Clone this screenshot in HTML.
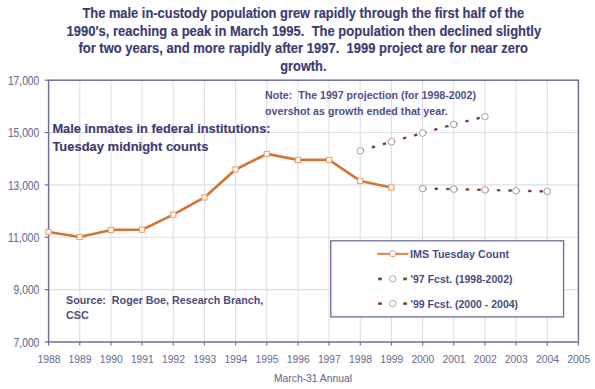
<!DOCTYPE html>
<html><head><meta charset="utf-8"><style>
html,body{margin:0;padding:0;background:#fff;width:595px;height:389px;overflow:hidden;position:relative}
</style></head><body>
<svg width="595" height="389" viewBox="0 0 595 389" style="position:absolute;left:0;top:0"><line x1="79.76" y1="80.2" x2="79.76" y2="342.0" stroke="#dedeea" stroke-width="1.1"/><line x1="110.93" y1="80.2" x2="110.93" y2="342.0" stroke="#dedeea" stroke-width="1.1"/><line x1="142.09" y1="80.2" x2="142.09" y2="342.0" stroke="#dedeea" stroke-width="1.1"/><line x1="173.26" y1="80.2" x2="173.26" y2="342.0" stroke="#dedeea" stroke-width="1.1"/><line x1="204.42" y1="80.2" x2="204.42" y2="342.0" stroke="#dedeea" stroke-width="1.1"/><line x1="235.59" y1="80.2" x2="235.59" y2="342.0" stroke="#dedeea" stroke-width="1.1"/><line x1="266.75" y1="80.2" x2="266.75" y2="342.0" stroke="#dedeea" stroke-width="1.1"/><line x1="297.92" y1="80.2" x2="297.92" y2="342.0" stroke="#dedeea" stroke-width="1.1"/><line x1="329.08" y1="80.2" x2="329.08" y2="342.0" stroke="#dedeea" stroke-width="1.1"/><line x1="360.25" y1="80.2" x2="360.25" y2="342.0" stroke="#dedeea" stroke-width="1.1"/><line x1="391.41" y1="80.2" x2="391.41" y2="342.0" stroke="#dedeea" stroke-width="1.1"/><line x1="422.58" y1="80.2" x2="422.58" y2="342.0" stroke="#dedeea" stroke-width="1.1"/><line x1="453.74" y1="80.2" x2="453.74" y2="342.0" stroke="#dedeea" stroke-width="1.1"/><line x1="484.91" y1="80.2" x2="484.91" y2="342.0" stroke="#dedeea" stroke-width="1.1"/><line x1="516.07" y1="80.2" x2="516.07" y2="342.0" stroke="#dedeea" stroke-width="1.1"/><line x1="547.24" y1="80.2" x2="547.24" y2="342.0" stroke="#dedeea" stroke-width="1.1"/><line x1="48.6" y1="289.64" x2="578.40" y2="289.64" stroke="#dedeea" stroke-width="1.1"/><line x1="48.6" y1="237.28" x2="578.40" y2="237.28" stroke="#dedeea" stroke-width="1.1"/><line x1="48.6" y1="184.92" x2="578.40" y2="184.92" stroke="#dedeea" stroke-width="1.1"/><line x1="48.6" y1="132.56" x2="578.40" y2="132.56" stroke="#dedeea" stroke-width="1.1"/><rect x="48.6" y="80.2" width="529.80" height="261.80" fill="none" stroke="#6e6e9c" stroke-width="1.5"/><line x1="48.60" y1="342.0" x2="48.60" y2="345.5" stroke="#6e6e9c" stroke-width="1.2"/><line x1="79.76" y1="342.0" x2="79.76" y2="345.5" stroke="#6e6e9c" stroke-width="1.2"/><line x1="110.93" y1="342.0" x2="110.93" y2="345.5" stroke="#6e6e9c" stroke-width="1.2"/><line x1="142.09" y1="342.0" x2="142.09" y2="345.5" stroke="#6e6e9c" stroke-width="1.2"/><line x1="173.26" y1="342.0" x2="173.26" y2="345.5" stroke="#6e6e9c" stroke-width="1.2"/><line x1="204.42" y1="342.0" x2="204.42" y2="345.5" stroke="#6e6e9c" stroke-width="1.2"/><line x1="235.59" y1="342.0" x2="235.59" y2="345.5" stroke="#6e6e9c" stroke-width="1.2"/><line x1="266.75" y1="342.0" x2="266.75" y2="345.5" stroke="#6e6e9c" stroke-width="1.2"/><line x1="297.92" y1="342.0" x2="297.92" y2="345.5" stroke="#6e6e9c" stroke-width="1.2"/><line x1="329.08" y1="342.0" x2="329.08" y2="345.5" stroke="#6e6e9c" stroke-width="1.2"/><line x1="360.25" y1="342.0" x2="360.25" y2="345.5" stroke="#6e6e9c" stroke-width="1.2"/><line x1="391.41" y1="342.0" x2="391.41" y2="345.5" stroke="#6e6e9c" stroke-width="1.2"/><line x1="422.58" y1="342.0" x2="422.58" y2="345.5" stroke="#6e6e9c" stroke-width="1.2"/><line x1="453.74" y1="342.0" x2="453.74" y2="345.5" stroke="#6e6e9c" stroke-width="1.2"/><line x1="484.91" y1="342.0" x2="484.91" y2="345.5" stroke="#6e6e9c" stroke-width="1.2"/><line x1="516.07" y1="342.0" x2="516.07" y2="345.5" stroke="#6e6e9c" stroke-width="1.2"/><line x1="547.24" y1="342.0" x2="547.24" y2="345.5" stroke="#6e6e9c" stroke-width="1.2"/><line x1="578.40" y1="342.0" x2="578.40" y2="345.5" stroke="#6e6e9c" stroke-width="1.2"/><line x1="44.6" y1="342.00" x2="48.6" y2="342.00" stroke="#6e6e9c" stroke-width="1.2"/><line x1="44.6" y1="289.64" x2="48.6" y2="289.64" stroke="#6e6e9c" stroke-width="1.2"/><line x1="44.6" y1="237.28" x2="48.6" y2="237.28" stroke="#6e6e9c" stroke-width="1.2"/><line x1="44.6" y1="184.92" x2="48.6" y2="184.92" stroke="#6e6e9c" stroke-width="1.2"/><line x1="44.6" y1="132.56" x2="48.6" y2="132.56" stroke="#6e6e9c" stroke-width="1.2"/><line x1="44.6" y1="80.20" x2="48.6" y2="80.20" stroke="#6e6e9c" stroke-width="1.2"/><text x="82.40" y="18.10" font-family="Liberation Sans" font-size="14" font-weight="bold" fill="#3c3c70" stroke="#3c3c70" stroke-width="0.15" textLength="441.80" lengthAdjust="spacingAndGlyphs" text-anchor="start" xml:space="preserve">The male in-custody population grew rapidly through the first half of the</text><text x="66.60" y="35.60" font-family="Liberation Sans" font-size="14" font-weight="bold" fill="#3c3c70" stroke="#3c3c70" stroke-width="0.15" textLength="474.60" lengthAdjust="spacingAndGlyphs" text-anchor="start" xml:space="preserve">1990's, reaching a peak in March 1995.  The population then declined slightly</text><text x="78.40" y="53.10" font-family="Liberation Sans" font-size="14" font-weight="bold" fill="#3c3c70" stroke="#3c3c70" stroke-width="0.15" textLength="449.60" lengthAdjust="spacingAndGlyphs" text-anchor="start" xml:space="preserve">for two years, and more rapidly after 1997.  1999 project are for near zero</text><text x="280.30" y="70.60" font-family="Liberation Sans" font-size="14" font-weight="bold" fill="#3c3c70" stroke="#3c3c70" stroke-width="0.15" textLength="46.20" lengthAdjust="spacingAndGlyphs" text-anchor="start" xml:space="preserve">growth.</text><text x="39.30" y="346.60" font-family="Liberation Sans" font-size="12.6" font-weight="normal" fill="#6c6c94" stroke="#6c6c94" stroke-width="0.1" textLength="25.69" lengthAdjust="spacingAndGlyphs" text-anchor="end" xml:space="preserve">7,000</text><text x="39.30" y="294.24" font-family="Liberation Sans" font-size="12.6" font-weight="normal" fill="#6c6c94" stroke="#6c6c94" stroke-width="0.1" textLength="25.69" lengthAdjust="spacingAndGlyphs" text-anchor="end" xml:space="preserve">9,000</text><text x="39.30" y="241.88" font-family="Liberation Sans" font-size="12.6" font-weight="normal" fill="#6c6c94" stroke="#6c6c94" stroke-width="0.1" textLength="31.40" lengthAdjust="spacingAndGlyphs" text-anchor="end" xml:space="preserve">11,000</text><text x="39.30" y="189.52" font-family="Liberation Sans" font-size="12.6" font-weight="normal" fill="#6c6c94" stroke="#6c6c94" stroke-width="0.1" textLength="31.40" lengthAdjust="spacingAndGlyphs" text-anchor="end" xml:space="preserve">13,000</text><text x="39.30" y="137.16" font-family="Liberation Sans" font-size="12.6" font-weight="normal" fill="#6c6c94" stroke="#6c6c94" stroke-width="0.1" textLength="31.40" lengthAdjust="spacingAndGlyphs" text-anchor="end" xml:space="preserve">15,000</text><text x="39.30" y="84.80" font-family="Liberation Sans" font-size="12.6" font-weight="normal" fill="#6c6c94" stroke="#6c6c94" stroke-width="0.1" textLength="31.40" lengthAdjust="spacingAndGlyphs" text-anchor="end" xml:space="preserve">17,000</text><text x="48.90" y="362.70" font-family="Liberation Sans" font-size="11" font-weight="normal" fill="#6c6c94" stroke="#6c6c94" stroke-width="0.05" textLength="23.00" lengthAdjust="spacingAndGlyphs" text-anchor="middle" xml:space="preserve">1988</text><text x="80.06" y="362.70" font-family="Liberation Sans" font-size="11" font-weight="normal" fill="#6c6c94" stroke="#6c6c94" stroke-width="0.05" textLength="23.00" lengthAdjust="spacingAndGlyphs" text-anchor="middle" xml:space="preserve">1989</text><text x="111.23" y="362.70" font-family="Liberation Sans" font-size="11" font-weight="normal" fill="#6c6c94" stroke="#6c6c94" stroke-width="0.05" textLength="23.00" lengthAdjust="spacingAndGlyphs" text-anchor="middle" xml:space="preserve">1990</text><text x="142.39" y="362.70" font-family="Liberation Sans" font-size="11" font-weight="normal" fill="#6c6c94" stroke="#6c6c94" stroke-width="0.05" textLength="23.00" lengthAdjust="spacingAndGlyphs" text-anchor="middle" xml:space="preserve">1991</text><text x="173.56" y="362.70" font-family="Liberation Sans" font-size="11" font-weight="normal" fill="#6c6c94" stroke="#6c6c94" stroke-width="0.05" textLength="23.00" lengthAdjust="spacingAndGlyphs" text-anchor="middle" xml:space="preserve">1992</text><text x="204.72" y="362.70" font-family="Liberation Sans" font-size="11" font-weight="normal" fill="#6c6c94" stroke="#6c6c94" stroke-width="0.05" textLength="23.00" lengthAdjust="spacingAndGlyphs" text-anchor="middle" xml:space="preserve">1993</text><text x="235.89" y="362.70" font-family="Liberation Sans" font-size="11" font-weight="normal" fill="#6c6c94" stroke="#6c6c94" stroke-width="0.05" textLength="23.00" lengthAdjust="spacingAndGlyphs" text-anchor="middle" xml:space="preserve">1994</text><text x="267.05" y="362.70" font-family="Liberation Sans" font-size="11" font-weight="normal" fill="#6c6c94" stroke="#6c6c94" stroke-width="0.05" textLength="23.00" lengthAdjust="spacingAndGlyphs" text-anchor="middle" xml:space="preserve">1995</text><text x="298.22" y="362.70" font-family="Liberation Sans" font-size="11" font-weight="normal" fill="#6c6c94" stroke="#6c6c94" stroke-width="0.05" textLength="23.00" lengthAdjust="spacingAndGlyphs" text-anchor="middle" xml:space="preserve">1996</text><text x="329.38" y="362.70" font-family="Liberation Sans" font-size="11" font-weight="normal" fill="#6c6c94" stroke="#6c6c94" stroke-width="0.05" textLength="23.00" lengthAdjust="spacingAndGlyphs" text-anchor="middle" xml:space="preserve">1997</text><text x="360.55" y="362.70" font-family="Liberation Sans" font-size="11" font-weight="normal" fill="#6c6c94" stroke="#6c6c94" stroke-width="0.05" textLength="23.00" lengthAdjust="spacingAndGlyphs" text-anchor="middle" xml:space="preserve">1998</text><text x="391.71" y="362.70" font-family="Liberation Sans" font-size="11" font-weight="normal" fill="#6c6c94" stroke="#6c6c94" stroke-width="0.05" textLength="23.00" lengthAdjust="spacingAndGlyphs" text-anchor="middle" xml:space="preserve">1999</text><text x="422.88" y="362.70" font-family="Liberation Sans" font-size="11" font-weight="normal" fill="#6c6c94" stroke="#6c6c94" stroke-width="0.05" textLength="23.00" lengthAdjust="spacingAndGlyphs" text-anchor="middle" xml:space="preserve">2000</text><text x="454.04" y="362.70" font-family="Liberation Sans" font-size="11" font-weight="normal" fill="#6c6c94" stroke="#6c6c94" stroke-width="0.05" textLength="23.00" lengthAdjust="spacingAndGlyphs" text-anchor="middle" xml:space="preserve">2001</text><text x="485.21" y="362.70" font-family="Liberation Sans" font-size="11" font-weight="normal" fill="#6c6c94" stroke="#6c6c94" stroke-width="0.05" textLength="23.00" lengthAdjust="spacingAndGlyphs" text-anchor="middle" xml:space="preserve">2002</text><text x="516.37" y="362.70" font-family="Liberation Sans" font-size="11" font-weight="normal" fill="#6c6c94" stroke="#6c6c94" stroke-width="0.05" textLength="23.00" lengthAdjust="spacingAndGlyphs" text-anchor="middle" xml:space="preserve">2003</text><text x="547.54" y="362.70" font-family="Liberation Sans" font-size="11" font-weight="normal" fill="#6c6c94" stroke="#6c6c94" stroke-width="0.05" textLength="23.00" lengthAdjust="spacingAndGlyphs" text-anchor="middle" xml:space="preserve">2004</text><text x="578.70" y="362.70" font-family="Liberation Sans" font-size="11" font-weight="normal" fill="#6c6c94" stroke="#6c6c94" stroke-width="0.05" textLength="23.00" lengthAdjust="spacingAndGlyphs" text-anchor="middle" xml:space="preserve">2005</text><text x="274.00" y="382.20" font-family="Liberation Sans" font-size="11" font-weight="normal" fill="#6c6c94" stroke="#6c6c94" stroke-width="0.1" textLength="78.00" lengthAdjust="spacingAndGlyphs" text-anchor="start" xml:space="preserve">March-31 Annual</text><text x="52.40" y="133.00" font-family="Liberation Sans" font-size="13.5" font-weight="bold" fill="#3c3c70" stroke="#3c3c70" stroke-width="0.15" textLength="218.20" lengthAdjust="spacingAndGlyphs" text-anchor="start" xml:space="preserve">Male inmates in federal institutions:</text><text x="52.40" y="150.70" font-family="Liberation Sans" font-size="13.5" font-weight="bold" fill="#3c3c70" stroke="#3c3c70" stroke-width="0.15" textLength="156.00" lengthAdjust="spacingAndGlyphs" text-anchor="start" xml:space="preserve">Tuesday midnight counts</text><text x="265.10" y="99.30" font-family="Liberation Sans" font-size="10.6" font-weight="bold" fill="#50508a" textLength="210.90" lengthAdjust="spacingAndGlyphs" text-anchor="start" xml:space="preserve">Note:  The 1997 projection (for 1998-2002)</text><text x="265.10" y="114.80" font-family="Liberation Sans" font-size="10.6" font-weight="bold" fill="#50508a" textLength="182.60" lengthAdjust="spacingAndGlyphs" text-anchor="start" xml:space="preserve">overshot as growth ended that year.</text><text x="66.00" y="303.90" font-family="Liberation Sans" font-size="11" font-weight="bold" fill="#4c4c7c" textLength="197.20" lengthAdjust="spacingAndGlyphs" text-anchor="start" xml:space="preserve">Source:  Roger Boe, Research Branch,</text><text x="66.00" y="318.60" font-family="Liberation Sans" font-size="11" font-weight="bold" fill="#4c4c7c" textLength="22.90" lengthAdjust="spacingAndGlyphs" text-anchor="start" xml:space="preserve">CSC</text><rect x="330.8" y="240.8" width="232.8" height="76.1" fill="#fff" stroke="#6c6c98" stroke-width="1.3"/><text x="410.10" y="258.30" font-family="Liberation Sans" font-size="11" font-weight="bold" fill="#4c4c7c" textLength="99.00" lengthAdjust="spacingAndGlyphs" text-anchor="start" xml:space="preserve">IMS Tuesday Count</text><text x="410.50" y="283.20" font-family="Liberation Sans" font-size="11" font-weight="bold" fill="#4c4c7c" textLength="102.00" lengthAdjust="spacingAndGlyphs" text-anchor="start" xml:space="preserve">'97 Fcst. (1998-2002)</text><text x="410.50" y="307.60" font-family="Liberation Sans" font-size="11" font-weight="bold" fill="#4c4c7c" textLength="107.60" lengthAdjust="spacingAndGlyphs" text-anchor="start" xml:space="preserve">'99 Fcst. (2000 - 2004)</text><line x1="377.3" y1="253.9" x2="408.5" y2="253.9" stroke="#dc9058" stroke-width="2.2"/><rect x="389.9" y="251.0" width="5.6" height="5.6" rx="1.5" fill="#fff" stroke="#e4a474" stroke-width="1"/><line x1="377.9" y1="278.9" x2="382.09999999999997" y2="278.9" stroke="#d9874a" stroke-width="3"/><line x1="378.59999999999997" y1="278.9" x2="381.4" y2="278.9" stroke="#3a3a6a" stroke-width="1.7"/><line x1="403.0" y1="278.9" x2="407.2" y2="278.9" stroke="#d9874a" stroke-width="3"/><line x1="403.7" y1="278.9" x2="406.5" y2="278.9" stroke="#3a3a6a" stroke-width="1.7"/><circle cx="392.7" cy="278.9" r="3.2" fill="#fff" stroke="#c0a0a0" stroke-width="1"/><line x1="377.9" y1="303.6" x2="382.09999999999997" y2="303.6" stroke="#d9874a" stroke-width="3"/><line x1="378.59999999999997" y1="303.6" x2="381.4" y2="303.6" stroke="#3a3a6a" stroke-width="1.7"/><line x1="403.0" y1="303.6" x2="407.2" y2="303.6" stroke="#d9874a" stroke-width="3"/><line x1="403.7" y1="303.6" x2="406.5" y2="303.6" stroke="#3a3a6a" stroke-width="1.7"/><circle cx="392.7" cy="303.6" r="3.2" fill="#fff" stroke="#c0a0a0" stroke-width="1"/><polyline points="48.60,232.04 79.76,237.02 110.93,229.95 142.09,229.69 173.26,214.61 204.42,197.41 235.59,169.42 266.75,153.95 297.92,159.94 329.08,159.94 360.25,180.99 391.41,187.54" fill="none" stroke="#d27636" stroke-width="2.7" stroke-linejoin="round"/><rect x="46.00" y="229.44" width="5.2" height="5.2" fill="#fff6ee" stroke="#e4a070" stroke-width="1"/><rect x="77.16" y="234.42" width="5.2" height="5.2" fill="#fff6ee" stroke="#e4a070" stroke-width="1"/><rect x="108.33" y="227.35" width="5.2" height="5.2" fill="#fff6ee" stroke="#e4a070" stroke-width="1"/><rect x="139.49" y="227.09" width="5.2" height="5.2" fill="#fff6ee" stroke="#e4a070" stroke-width="1"/><rect x="170.66" y="212.01" width="5.2" height="5.2" fill="#fff6ee" stroke="#e4a070" stroke-width="1"/><rect x="201.82" y="194.81" width="5.2" height="5.2" fill="#fff6ee" stroke="#e4a070" stroke-width="1"/><rect x="232.99" y="166.82" width="5.2" height="5.2" fill="#fff6ee" stroke="#e4a070" stroke-width="1"/><rect x="264.15" y="151.35" width="5.2" height="5.2" fill="#fff6ee" stroke="#e4a070" stroke-width="1"/><rect x="295.32" y="157.34" width="5.2" height="5.2" fill="#fff6ee" stroke="#e4a070" stroke-width="1"/><rect x="326.48" y="157.34" width="5.2" height="5.2" fill="#fff6ee" stroke="#e4a070" stroke-width="1"/><rect x="357.65" y="178.39" width="5.2" height="5.2" fill="#fff6ee" stroke="#e4a070" stroke-width="1"/><rect x="388.81" y="184.94" width="5.2" height="5.2" fill="#fff6ee" stroke="#e4a070" stroke-width="1"/><line x1="360.25" y1="150.89" x2="391.41" y2="141.72" stroke="#d9874a" stroke-width="2.5" stroke-dasharray="3.8 7.7" stroke-dashoffset="-0.3"/><line x1="360.25" y1="150.89" x2="391.41" y2="141.72" stroke="#3a3a6a" stroke-width="1.7" stroke-dasharray="2.6 8.9" stroke-dashoffset="-0.9"/><line x1="391.41" y1="141.72" x2="422.58" y2="133.08" stroke="#d9874a" stroke-width="2.5" stroke-dasharray="3.8 7.7" stroke-dashoffset="-0.3"/><line x1="391.41" y1="141.72" x2="422.58" y2="133.08" stroke="#3a3a6a" stroke-width="1.7" stroke-dasharray="2.6 8.9" stroke-dashoffset="-0.9"/><line x1="422.58" y1="133.08" x2="453.74" y2="124.44" stroke="#d9874a" stroke-width="2.5" stroke-dasharray="3.8 7.7" stroke-dashoffset="-0.3"/><line x1="422.58" y1="133.08" x2="453.74" y2="124.44" stroke="#3a3a6a" stroke-width="1.7" stroke-dasharray="2.6 8.9" stroke-dashoffset="-0.9"/><line x1="453.74" y1="124.44" x2="484.91" y2="116.59" stroke="#d9874a" stroke-width="2.5" stroke-dasharray="3.8 7.7" stroke-dashoffset="-0.3"/><line x1="453.74" y1="124.44" x2="484.91" y2="116.59" stroke="#3a3a6a" stroke-width="1.7" stroke-dasharray="2.6 8.9" stroke-dashoffset="-0.9"/><circle cx="360.25" cy="150.89" r="3.3" fill="#fff" stroke="#ac98ac" stroke-width="1"/><circle cx="391.41" cy="141.72" r="3.3" fill="#fff" stroke="#ac98ac" stroke-width="1"/><circle cx="422.58" cy="133.08" r="3.3" fill="#fff" stroke="#ac98ac" stroke-width="1"/><circle cx="453.74" cy="124.44" r="3.3" fill="#fff" stroke="#ac98ac" stroke-width="1"/><circle cx="484.91" cy="116.59" r="3.3" fill="#fff" stroke="#ac98ac" stroke-width="1"/><line x1="422.58" y1="188.59" x2="453.74" y2="189.11" stroke="#d9874a" stroke-width="2.5" stroke-dasharray="3.8 7.7" stroke-dashoffset="-0.3"/><line x1="422.58" y1="188.59" x2="453.74" y2="189.11" stroke="#3a3a6a" stroke-width="1.7" stroke-dasharray="2.6 8.9" stroke-dashoffset="-0.9"/><line x1="453.74" y1="189.11" x2="484.91" y2="189.89" stroke="#d9874a" stroke-width="2.5" stroke-dasharray="3.8 7.7" stroke-dashoffset="-0.3"/><line x1="453.74" y1="189.11" x2="484.91" y2="189.89" stroke="#3a3a6a" stroke-width="1.7" stroke-dasharray="2.6 8.9" stroke-dashoffset="-0.9"/><line x1="484.91" y1="189.89" x2="516.07" y2="190.68" stroke="#d9874a" stroke-width="2.5" stroke-dasharray="3.8 7.7" stroke-dashoffset="-0.3"/><line x1="484.91" y1="189.89" x2="516.07" y2="190.68" stroke="#3a3a6a" stroke-width="1.7" stroke-dasharray="2.6 8.9" stroke-dashoffset="-0.9"/><line x1="516.07" y1="190.68" x2="547.24" y2="191.46" stroke="#d9874a" stroke-width="2.5" stroke-dasharray="3.8 7.7" stroke-dashoffset="-0.3"/><line x1="516.07" y1="190.68" x2="547.24" y2="191.46" stroke="#3a3a6a" stroke-width="1.7" stroke-dasharray="2.6 8.9" stroke-dashoffset="-0.9"/><circle cx="422.58" cy="188.59" r="3.3" fill="#fff" stroke="#ac98ac" stroke-width="1"/><circle cx="453.74" cy="189.11" r="3.3" fill="#fff" stroke="#ac98ac" stroke-width="1"/><circle cx="484.91" cy="189.89" r="3.3" fill="#fff" stroke="#ac98ac" stroke-width="1"/><circle cx="516.07" cy="190.68" r="3.3" fill="#fff" stroke="#ac98ac" stroke-width="1"/><circle cx="547.24" cy="191.46" r="3.3" fill="#fff" stroke="#ac98ac" stroke-width="1"/></svg>
</body></html>
